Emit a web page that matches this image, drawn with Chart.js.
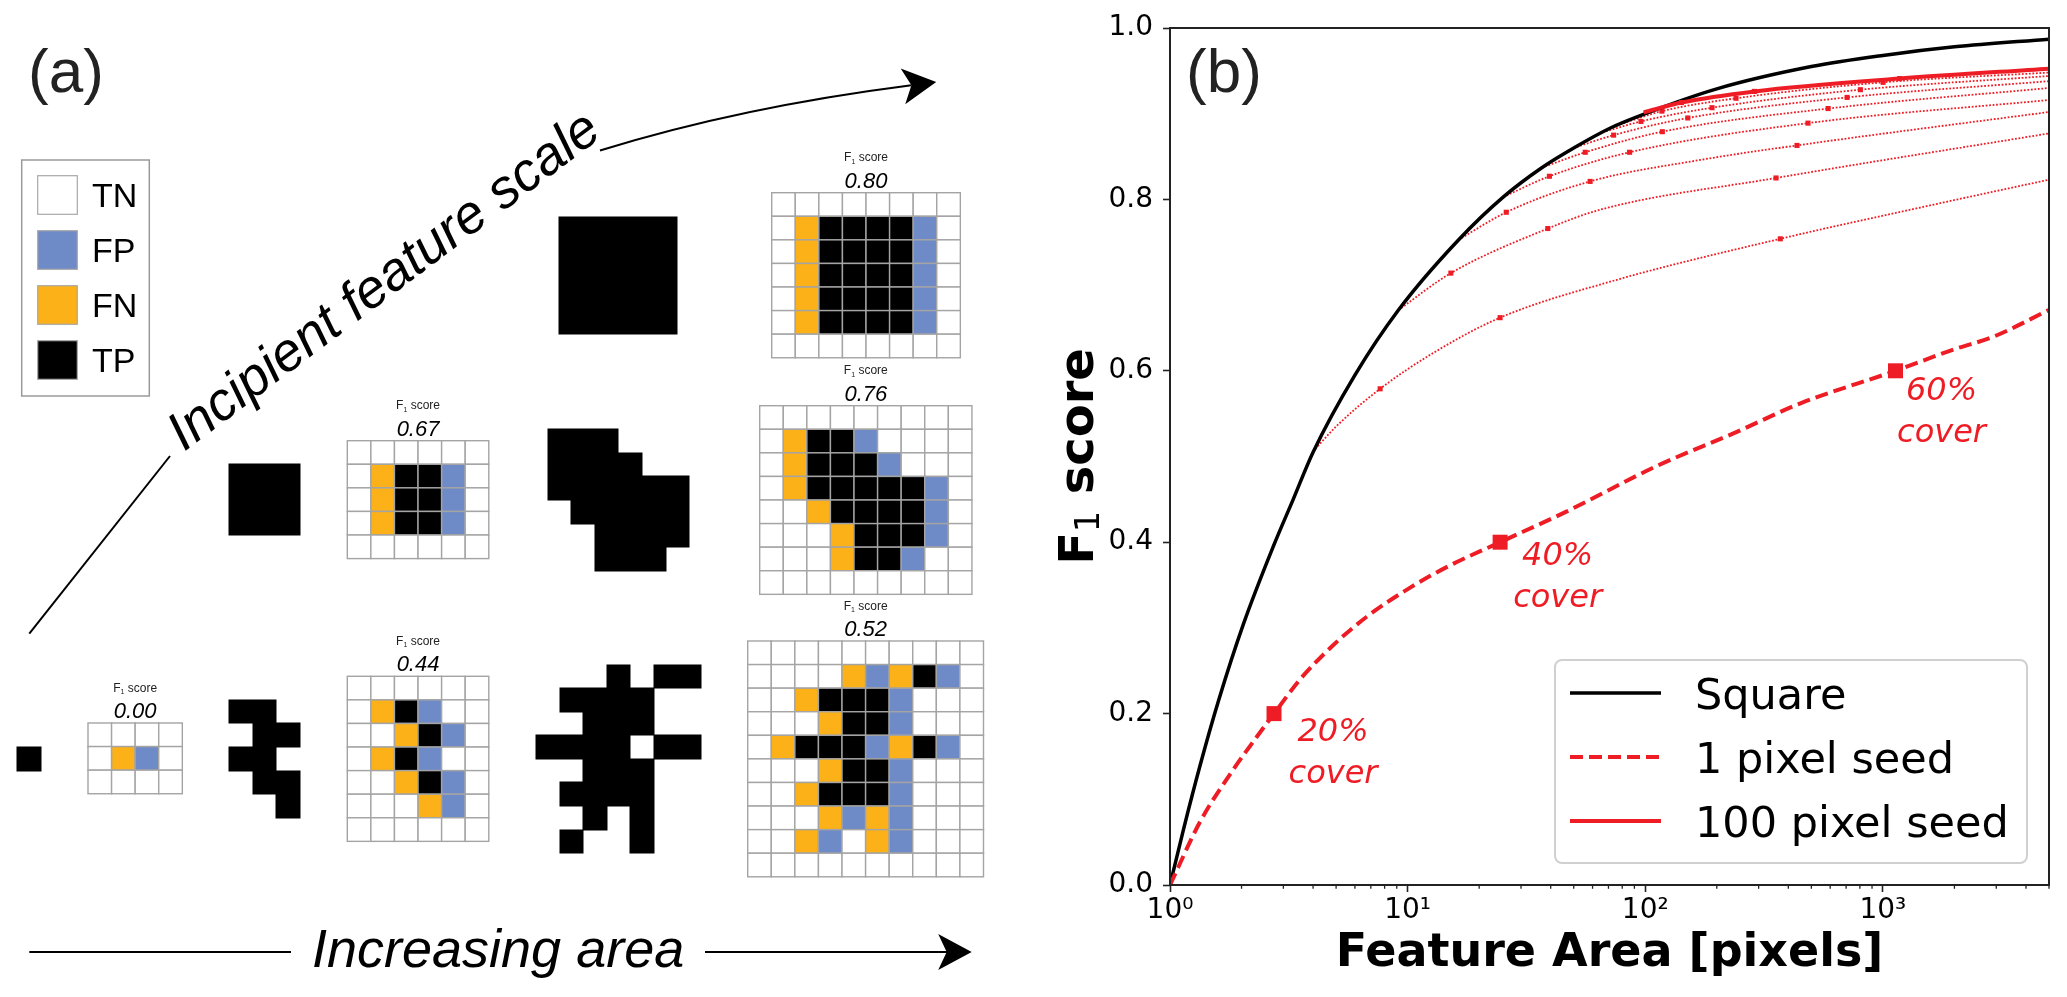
<!DOCTYPE html>
<html>
<head>
<meta charset="utf-8">
<title>F1 score vs feature area</title>
<script src="https://cdn.jsdelivr.net/npm/chart.js@4.4.1/dist/chart.umd.min.js"></script>
<style>
  html, body { margin: 0; padding: 0; background: #fff; }
  #wrap { position: relative; width: 2067px; height: 997px; overflow: hidden; }
  #panelA { position: absolute; left: 0; top: 0; }
  #panelB { position: absolute; left: 1040px; top: 0; }
</style>
</head>
<body>
<div id="wrap">
  <canvas id="panelA" width="1040" height="997"></canvas>
  <canvas id="panelB" width="1027" height="997"></canvas>
</div>
<script>
document.addEventListener("DOMContentLoaded", function () {

/* =======================
   Panel (a) data
   . = TN, p = FP, n = FN, t = TP
======================= */

const gridScore000 = ["....", ".np.", "...."];
const gridScore044 = ["......", ".ntp..", "..ntp.", ".ntp..", "..ntp.", "...np.", "......"];
const gridScore067 = ["......", ".nttp.", ".nttp.", ".nttp.", "......"];
const gridScore080 = ["........", ".nttttp.", ".nttttp.", ".nttttp.", ".nttttp.", ".nttttp.", "........"];
const gridScore076 = [".........", ".nttp....", ".ntttp...", ".ntttttp.", "..nttttp.", "...ntttp.", "...nttp..", "........."];
const gridScore052 = ["..........", "....npntp.", "..ntttp...", "...nttp...", ".ntttpntp.",
                      "...nttp...", "..ntttp...", "...npnp...", "..np.np...", ".........."];
const scoreLabels = ["0.00", "0.44", "0.67", "0.80", "0.76", "0.52"];
const cellKinds = [".", "p", "n", "t"];
const cellKindLabels = ["TN", "FP", "FN", "TP"];

/* =======================
   Panel (b) data
======================= */

const squareArea = [1, 1.14, 1.34, 1.6, 2.04, 2.72, 3.3, 4, 6, 9.15, 16.4, 25.3, 36.7, 50, 71, 100, 200, 500, 1000, 2000, 5000];
const squareF1   = [0, 0.065, 0.14, 0.215, 0.305, 0.395, 0.45, 0.505, 0.595, 0.671, 0.753, 0.803, 0.837, 0.86, 0.883, 0.9, 0.929, 0.955, 0.968, 0.978, 0.987];

const onePixelArea = [1, 1.34, 1.85, 2.32, 2.74, 3.53, 4.87, 6.73, 10.25, 15.1, 24.5, 46.8, 112, 235, 450, 1130, 1990, 2930, 5000];
const onePixelF1   = [0, 0.074, 0.135, 0.173, 0.2, 0.24, 0.28, 0.313, 0.347, 0.373, 0.4, 0.436, 0.489, 0.527, 0.562, 0.6, 0.625, 0.64, 0.671];

const coverArea   = [2.74, 24.5, 1130];
const coverF1     = [0.2, 0.4, 0.6];
const coverLabels = ["20%", "40%", "60%"];

const seed4Area  = [4, 5.0, 7.66, 12.85, 24.5, 71.2, 370, 1640, 5000];
const seed4F1    = [0.506, 0.535, 0.579, 0.621, 0.662, 0.704, 0.754, 0.794, 0.823];
const seed4Mark  = [0, 0, 1, 0, 1, 0, 1, 0, 0];
const seed9Area  = [9.15, 15.2, 38.9, 64.6, 355, 5000];
const seed9F1    = [0.671, 0.714, 0.766, 0.788, 0.825, 0.877];
const seed9Mark  = [0, 1, 1, 0, 1, 0];
const seed16Area = [16.4, 26, 58.6, 170, 435, 5000];
const seed16F1   = [0.753, 0.785, 0.821, 0.846, 0.863, 0.902];
const seed16Mark = [0, 1, 1, 0, 1, 0];
const seed25Area = [25.3, 39.5, 85.9, 484, 5000];
const seed25F1   = [0.803, 0.827, 0.855, 0.889, 0.916];
const seed36Area = [36.7, 55.9, 118, 588, 5000];
const seed36F1   = [0.837, 0.855, 0.879, 0.906, 0.930];
const seed49Area = [49.9, 73.6, 151, 707, 5000];
const seed49F1   = [0.86, 0.875, 0.895, 0.919, 0.938];
const seed64Area = [64, 95.9, 191, 804, 5000];
const seed64F1   = [0.877, 0.891, 0.907, 0.928, 0.944];
const seed81Area = [81, 117.5, 241, 1002, 5000];
const seed81F1   = [0.889, 0.903, 0.918, 0.9366, 0.948];
const seedMark5  = [0, 1, 1, 1, 0];

const hundredArea = [98.4, 142, 288, 1177, 5000];
const hundredF1   = [0.9015, 0.913, 0.926, 0.941, 0.9525];

const xMajorTicks = [1, 10, 100, 1000];
const xTickLabels = ["10\u2070", "10\u00B9", "10\u00B2", "10\u00B3"];
const xMinorTicks = [2, 3, 4, 5, 6, 7, 8, 9, 20, 30, 40, 50, 60, 70, 80, 90,
                     200, 300, 400, 500, 600, 700, 800, 900, 2000, 3000, 4000, 5000];
const yTicks      = [0, 0.2, 0.4, 0.6, 0.8, 1.0];
const yTickLabels = ["0.0", "0.2", "0.4", "0.6", "0.8", "1.0"];
const legendLabels = ["Square", "1 pixel seed", "100 pixel seed"];

/* =======================
   styles / layout
======================= */

const RED = "#ee1d25";
const kindColor = { ".": "#ffffff", "p": "#6f8bc7", "n": "#fbb117", "t": "#000000" };
const SANS = "'Liberation Sans', Arial, sans-serif";
const DEJAVU = "'DejaVu Sans', sans-serif";
const CELL = 23.58;

// gx/gy: grid top-left, sx/sy: where truth cell (1,1) of the black shape sits
const exampleLayout = [
  { gx: 88,    gy: 723,   sx: 17.3,  sy: 747   },
  { gx: 347.3, gy: 676.3, sx: 229.3, sy: 699.8 },
  { gx: 347.3, gy: 440.7, sx: 229.3, sy: 464.2 },
  { gx: 771.7, gy: 192.7, sx: 559.3, sy: 216.5 },
  { gx: 759.7, gy: 405.7, sx: 547.7, sy: 429.3 },
  { gx: 747.7, gy: 641,   sx: 536,   sy: 664.5 }
];
const examples = [gridScore000, gridScore044, gridScore067, gridScore080, gridScore076, gridScore052];

const cellPoints = [];
const shapePoints = [];
examples.forEach(function (rows, k) {
  const L = exampleLayout[k];
  rows.forEach(function (row, r) {
    row.split("").forEach(function (kind, c) {
      cellPoints.push({ x: L.gx + (c + 0.5) * CELL, y: L.gy + (r + 0.5) * CELL, kind: kind });
      if (kind === "n" || kind === "t") {
        shapePoints.push({ x: L.sx + (c - 0.5) * CELL, y: L.sy + (r - 0.5) * CELL });
      }
    });
  });
});

function arrowHead(ctx, tx, ty, ang) {
  const c = Math.cos(ang), s = Math.sin(ang);
  const P = (a, b) => [tx + a * c - b * s, ty + a * s + b * c];
  const p1 = P(-33.5, -18), p2 = P(-25, 0), p3 = P(-33.5, 18);
  ctx.beginPath();
  ctx.moveTo(tx, ty);
  ctx.lineTo(p1[0], p1[1]);
  ctx.lineTo(p2[0], p2[1]);
  ctx.lineTo(p3[0], p3[1]);
  ctx.closePath();
  ctx.fill();
}

/* =======================
   Panel (a)
======================= */

const panelAPlugin = {
  id: "panelA",
  afterDatasetsDraw(chart) {
    const ctx = chart.ctx;
    const xs = chart.scales.x, ys = chart.scales.y;
    const px = v => xs.getPixelForValue(v);
    const py = v => ys.getPixelForValue(v);
    const h = CELL / 2;
    ctx.save();

    // black truth shapes, one path so no seams
    ctx.fillStyle = "#000";
    ctx.beginPath();
    chart.data.datasets[1].data.forEach(function (p) {
      const x0 = Math.round(px(p.x - h)), x1 = Math.round(px(p.x + h));
      const y0 = Math.round(py(p.y - h)), y1 = Math.round(py(p.y + h));
      ctx.rect(x0 - 0.5, y0 - 0.5, x1 - x0 + 1, y1 - y0 + 1);
    });
    ctx.fill("nonzero");

    // confusion grids
    chart.data.datasets[0].data.forEach(function (p) {
      const x0 = px(p.x - h), y0 = py(p.y - h);
      const w = px(p.x + h) - x0, hh = py(p.y + h) - y0;
      ctx.fillStyle = kindColor[p.kind];
      ctx.fillRect(x0, y0, w, hh);
      ctx.strokeStyle = "#a4a4a4";
      ctx.lineWidth = 1.4;
      ctx.strokeRect(x0, y0, w, hh);
    });

    // grid titles
    examples.forEach(function (rows, k) {
      const L = exampleLayout[k];
      const cx = px(L.gx + rows[0].length * CELL / 2);
      const top = py(L.gy);
      ctx.fillStyle = "#222";
      ctx.textBaseline = "alphabetic";
      ctx.textAlign = "left";
      ctx.font = "12px " + SANS;
      const wF = ctx.measureText("F").width, wS = ctx.measureText(" score").width;
      ctx.font = "7px " + SANS;
      const w1 = ctx.measureText("1").width;
      let x0 = cx - (wF + w1 + wS) / 2;
      ctx.font = "12px " + SANS;
      ctx.fillText("F", x0, top - 31.5);
      ctx.font = "7px " + SANS;
      ctx.fillText("1", x0 + wF, top - 29);
      ctx.font = "12px " + SANS;
      ctx.fillText(" score", x0 + wF + w1, top - 31.5);
      ctx.fillStyle = "#000";
      ctx.textAlign = "center";
      ctx.font = "italic 22px " + SANS;
      ctx.fillText(scoreLabels[k], cx, top - 5);
    });

    // legend box
    ctx.strokeStyle = "#9a9a9a";
    ctx.lineWidth = 1.5;
    ctx.strokeRect(px(21.7), py(160), px(149.3) - px(21.7), py(396) - py(160));
    cellKinds.forEach(function (kind, i) {
      const yTop = 175.7 + i * 55;
      ctx.fillStyle = kindColor[kind];
      ctx.fillRect(px(37.7), py(yTop), px(77.3) - px(37.7), py(yTop + 38.6) - py(yTop));
      ctx.strokeStyle = "#a8a8a8";
      ctx.lineWidth = 1.2;
      ctx.strokeRect(px(37.7), py(yTop), px(77.3) - px(37.7), py(yTop + 38.6) - py(yTop));
      ctx.fillStyle = "#000";
      ctx.textAlign = "left";
      ctx.textBaseline = "alphabetic";
      ctx.font = "34px " + SANS;
      ctx.fillText(cellKindLabels[i], px(92), py(yTop + 31.5));
    });

    // panel letter
    ctx.font = "62px " + SANS;
    ctx.fillStyle = "#222";
    ctx.textAlign = "left";
    ctx.fillText("(a)", px(28), py(92));

    // incipient feature scale arrow
    ctx.strokeStyle = "#000";
    ctx.fillStyle = "#000";
    ctx.lineWidth = 2;
    ctx.beginPath();
    ctx.moveTo(px(29.3), py(633.7));
    ctx.lineTo(px(170), py(456));
    ctx.stroke();
    ctx.beginPath();
    ctx.moveTo(px(600), py(150.5));
    ctx.quadraticCurveTo(px(740), py(107), px(911.4), py(85.2));
    ctx.stroke();
    arrowHead(ctx, px(936.2), py(82.1), Math.atan2(85.2 - 107, 911.4 - 740));

    ctx.save();
    ctx.translate(px(184), py(452));
    ctx.rotate(-37 * Math.PI / 180);
    ctx.font = "italic 54px " + SANS;
    ctx.textAlign = "left";
    ctx.fillText("Incipient feature scale", 0, 0);
    ctx.restore();

    // increasing area arrow
    ctx.beginPath();
    ctx.moveTo(px(29.3), py(952));
    ctx.lineTo(px(291), py(952));
    ctx.moveTo(px(705), py(952));
    ctx.lineTo(px(947), py(952));
    ctx.stroke();
    arrowHead(ctx, px(971.7), py(952), 0);
    ctx.font = "italic 54px " + SANS;
    ctx.textAlign = "left";
    ctx.fillText("Increasing area", px(312), py(967));

    ctx.restore();
  }
};

new Chart(document.getElementById("panelA"), {
  type: "scatter",
  data: {
    datasets: [
      { label: "cells", data: cellPoints, pointRadius: 0 },
      { label: "shapes", data: shapePoints, pointRadius: 0 }
    ]
  },
  options: {
    responsive: false,
    animation: false,
    layout: { padding: 0 },
    plugins: { legend: { display: false }, tooltip: { enabled: false } },
    scales: {
      x: { type: "linear", min: 0, max: 1040, display: false },
      y: { type: "linear", min: 0, max: 997, reverse: true, display: false }
    }
  },
  plugins: [panelAPlugin]
});

/* =======================
   Panel (b)
======================= */

const pts = (xs, ys) => xs.map((v, i) => ({ x: v, y: ys[i] }));

function seedDataset(area, f1, mark) {
  return {
    label: "seed",
    data: pts(area, f1),
    showLine: true,
    borderColor: RED,
    borderWidth: 1.8,
    borderDash: [1.8, 1.7],
    cubicInterpolationMode: "monotone",
    pointStyle: "rect",
    pointRadius: c => (mark[c.dataIndex] ? 3.6 : 0),
    pointBackgroundColor: RED,
    pointBorderWidth: 0
  };
}

const panelBPlugin = {
  id: "panelB",
  afterDraw(chart) {
    const ctx = chart.ctx;
    const a = chart.chartArea;
    const xs = chart.scales.x, ys = chart.scales.y;
    ctx.save();

    // frame
    ctx.strokeStyle = "#222";
    ctx.lineWidth = 2;
    ctx.strokeRect(a.left, a.top, a.right - a.left, a.bottom - a.top);

    // minor log ticks
    ctx.lineWidth = 1.3;
    xMinorTicks.forEach(function (v) {
      const x = xs.getPixelForValue(v);
      ctx.beginPath();
      ctx.moveTo(x, a.bottom);
      ctx.lineTo(x, a.bottom + 3.8);
      ctx.stroke();
    });

    // cover annotations
    const annot = [[59, 27, 69], [57.5, 23, 65], [46, 29.3, 71]];
    ctx.fillStyle = RED;
    ctx.textAlign = "center";
    ctx.textBaseline = "alphabetic";
    ctx.font = "oblique 32px " + DEJAVU;
    coverLabels.forEach(function (lab, i) {
      const x = xs.getPixelForValue(coverArea[i]) + annot[i][0];
      const y = ys.getPixelForValue(coverF1[i]);
      ctx.fillText(lab, x, y + annot[i][1]);
      ctx.fillText("cover", x, y + annot[i][2]);
    });

    // legend
    ctx.beginPath();
    ctx.roundRect(515, 660, 472, 203, 7);
    ctx.fillStyle = "rgba(255,255,255,0.85)";
    ctx.fill();
    ctx.strokeStyle = "#d0d0d0";
    ctx.lineWidth = 2;
    ctx.stroke();
    const rowY = [693, 757, 821];
    const sample = [["#000", 3.5, []], [RED, 4, [13, 6]], [RED, 4, []]];
    legendLabels.forEach(function (lab, i) {
      ctx.strokeStyle = sample[i][0];
      ctx.lineWidth = sample[i][1];
      ctx.setLineDash(sample[i][2]);
      ctx.beginPath();
      ctx.moveTo(530, rowY[i]);
      ctx.lineTo(621, rowY[i]);
      ctx.stroke();
      ctx.setLineDash([]);
      ctx.fillStyle = "#000";
      ctx.textAlign = "left";
      ctx.font = "43px " + DEJAVU;
      ctx.fillText(lab, 655, rowY[i] + 15.7);
    });

    // panel letter
    ctx.fillStyle = "#222";
    ctx.font = "62px " + SANS;
    ctx.textAlign = "left";
    ctx.fillText("(b)", 146, 92);

    // y axis label with subscript
    ctx.save();
    ctx.translate(53, (a.top + a.bottom) / 2);
    ctx.rotate(-Math.PI / 2);
    ctx.fillStyle = "#000";
    const fB = "bold 48px " + DEJAVU, fS = "33px " + DEJAVU;
    ctx.font = fB;
    const wF = ctx.measureText("F").width, wS = ctx.measureText(" score").width;
    ctx.font = fS;
    const w1 = ctx.measureText("1").width;
    const x0 = -(wF + w1 + wS) / 2;
    ctx.font = fB;
    ctx.fillText("F", x0, 0);
    ctx.font = fS;
    ctx.fillText("1", x0 + wF, 6);
    ctx.font = fB;
    ctx.fillText(" score", x0 + wF + w1, 0);
    ctx.restore();

    ctx.restore();
  }
};

const tickFont = { family: DEJAVU, size: 28 };

new Chart(document.getElementById("panelB"), {
  type: "scatter",
  data: {
    datasets: [
      {
        label: "cover markers",
        data: pts(coverArea, coverF1),
        pointStyle: "rect",
        pointRadius: 10.6,
        pointBackgroundColor: RED,
        pointBorderWidth: 0,
        showLine: false
      },
      {
        label: "1 pixel seed",
        data: pts(onePixelArea, onePixelF1),
        showLine: true,
        borderColor: RED,
        borderWidth: 4,
        borderDash: [13, 6],
        cubicInterpolationMode: "monotone",
        pointRadius: 0
      },
      {
        label: "100 pixel seed",
        data: pts(hundredArea, hundredF1),
        showLine: true,
        borderColor: RED,
        borderWidth: 4,
        cubicInterpolationMode: "monotone",
        pointStyle: "rect",
        pointRadius: c => (seedMark5[c.dataIndex] ? 3.6 : 0),
        pointBackgroundColor: RED,
        pointBorderWidth: 0
      },
      {
        label: "Square",
        data: pts(squareArea, squareF1),
        showLine: true,
        borderColor: "#000",
        borderWidth: 3.5,
        cubicInterpolationMode: "monotone",
        pointRadius: 0
      },
      seedDataset(seed4Area, seed4F1, seed4Mark),
      seedDataset(seed9Area, seed9F1, seed9Mark),
      seedDataset(seed16Area, seed16F1, seed16Mark),
      seedDataset(seed25Area, seed25F1, seedMark5),
      seedDataset(seed36Area, seed36F1, seedMark5),
      seedDataset(seed49Area, seed49F1, seedMark5),
      seedDataset(seed64Area, seed64F1, seedMark5),
      seedDataset(seed81Area, seed81F1, seedMark5)
    ]
  },
  options: {
    responsive: false,
    animation: false,
    layout: { padding: { left: 0, right: 18, top: 28, bottom: 0 } },
    plugins: { legend: { display: false }, tooltip: { enabled: false } },
    scales: {
      x: {
        type: "logarithmic",
        min: 1,
        max: 5000,
        afterBuildTicks: s => { s.ticks = xMajorTicks.map(v => ({ value: v })); },
        afterFit: s => { s.height = 112; },
        ticks: {
          callback: (v, i) => xTickLabels[i],
          autoSkip: false,
          maxRotation: 0,
          padding: 2,
          color: "#000",
          font: tickFont
        },
        grid: { drawOnChartArea: false, drawTicks: true, tickLength: 7, tickWidth: 1.6, tickColor: "#222" },
        border: { display: false },
        title: {
          display: true,
          text: "Feature Area [pixels]",
          color: "#000",
          font: { family: DEJAVU, size: 46, weight: "bold" },
          padding: { top: 0, bottom: 15 }
        }
      },
      y: {
        type: "linear",
        min: 0,
        max: 1,
        afterBuildTicks: s => { s.ticks = yTicks.map(v => ({ value: v })); },
        afterFit: s => { s.width = 130; },
        ticks: {
          callback: (v, i) => yTickLabels[i],
          padding: 10,
          color: "#000",
          font: tickFont
        },
        grid: { drawOnChartArea: false, drawTicks: true, tickLength: 7, tickWidth: 1.6, tickColor: "#222" },
        border: { display: false }
      }
    }
  },
  plugins: [panelBPlugin]
});

});
</script>
</body>
</html>
